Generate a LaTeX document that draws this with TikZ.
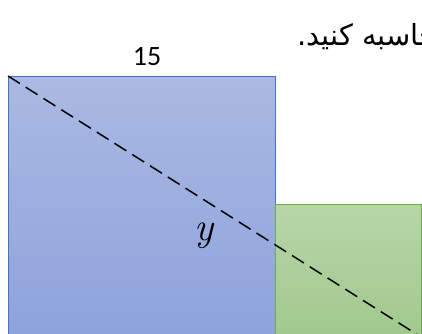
\documentclass[tikz,border=0pt]{standalone}
\usepackage{fontspec}
\usepackage{xcolor}
\usepackage{tikz}
\usetikzlibrary{positioning,calc}
\TeXXeTstate=1
\newfontfamily\arabicfont[Script=Arabic]{DejaVu Sans}
\newfontfamily\labelfont{Carlito}
\definecolor{bluetop}{RGB}{171,185,226}
\definecolor{bluebot}{RGB}{140,162,220}
\definecolor{blueline}{RGB}{68,114,196}
\definecolor{greentop}{RGB}{183,214,168}
\definecolor{greenbot}{RGB}{158,199,138}
\definecolor{greenline}{RGB}{112,173,71}

\begin{document}
\begin{tikzpicture}[
            x=1pt, y=-1pt,
            square/.style={draw, line width=1pt, inner sep=0pt, anchor=north west},
            diag/.style={dashed, line width=1.5pt, dash pattern=on 14pt off 7pt},
        ]
            \useasboundingbox (0,0) rectangle (422,333);
            \clip (0,0) rectangle (422,333);

            \node[square, draw=blueline, top color=bluetop, bottom color=bluebot,
                minimum width=267pt, minimum height=267pt] (big) at (8,76) {};
            \node[square, draw=greenline, top color=greentop, bottom color=greenbot,
                minimum width=146pt, minimum height=146pt] (small) at (275,204) {};

            \node[font=\labelfont\fontsize{28}{32}\selectfont] (side) at (147,57) {15};
            \node[font=\fontsize{40}{44}\selectfont] (diaglabel) at (205,236) {\textit{y}};
            \node[anchor=base west, inner sep=0pt, font=\fontsize{29}{32}\selectfont]
                (task) at (297,45) {\arabicfont\beginR محاسبه کنید.\endR};

            \coordinate (far) at (421,337);
            \draw[diag] (big.north west) -- (far);
        \end{tikzpicture}
\end{document}
